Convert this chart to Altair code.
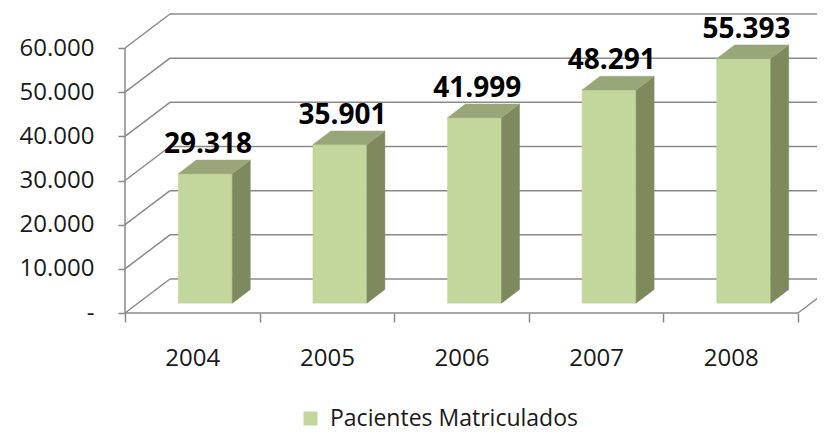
import altair as alt
import pandas as pd

# ---------------- data ----------------
years = ["2004", "2005", "2006", "2007", "2008"]
values = [29318, 35901, 41999, 48291, 55393]
value_labels = ["29.318", "35.901", "41.999", "48.291", "55.393"]
series_name = "Pacientes Matriculados"
y_ticks = [0, 10000, 20000, 30000, 40000, 50000, 60000]

# ---------------- layout (pixels) ----------------
BAND_PX = 673 / 5            # width of one category on the front axis
Y_PX = 265 / 60000           # pixels per unit of value
PLOT_W, PLOT_H = 692, 299
XMAX = PLOT_W / BAND_PX
YMAX = PLOT_H / Y_PX
DX = 45 / BAND_PX            # depth of the 3-D box (x)
DY = 34 / Y_PX               # depth of the 3-D box (y)
F1, F2 = 13 / 45, 31 / 45    # front / back depth of the bars
BAR_W = 54 / BAND_PX

FRONT = "#C3D69B"
SIDE = "#7E8A5E"
TOP = "#99A679"
GRID = "#8A8A8A"
FONT = "Open Sans"

xscale = alt.Scale(domain=[0, XMAX], nice=False, zero=False)
yscale = alt.Scale(domain=[0, YMAX], nice=False, zero=False)
year_arr = "[" + ",".join("'%s'" % y for y in years) + "]"
xaxis = alt.Axis(values=list(range(len(years) + 1)), domain=False, grid=False,
                 tickSize=9, tickColor=GRID, tickWidth=1.5,
                 labelExpr="datum.value < %d ? %s[datum.value] : ''" % (len(years), year_arr),
                 labelOffset=BAND_PX / 2, labelPadding=24, labelFlush=False,
                 labelOverlap=False, labelFont=FONT, labelFontSize=24,
                 labelColor="#1a1a1a", title=None)
yaxis = alt.Axis(values=y_ticks, domain=False, grid=False, tickSize=7,
                 tickColor=GRID, tickWidth=1.5,
                 labelExpr="datum.value == 0 ? '-\u2007' : replace(format(datum.value, ',d'), ',', '.')",
                 labelPadding=24, labelFont=FONT, labelFontSize=24,
                 labelColor="#1a1a1a", title=None)


def X(f):
    return alt.X(f, type="quantitative", scale=xscale, axis=xaxis, title=None)


def Y(f):
    return alt.Y(f, type="quantitative", scale=yscale, axis=yaxis, title=None)


# ---------------- derived tables ----------------
lines = []
for k in y_ticks:
    lines.append(dict(x=DX, x2=XMAX, y=k + DY, y2=k + DY))   # back wall
    lines.append(dict(x=0, x2=DX, y=k, y2=k + DY))            # side wall
n = len(years)
lines.append(dict(x=0, x2=n, y=0, y2=0))                      # floor front edge
lines.append(dict(x=n, x2=n + DX, y=0, y2=DY))                # floor right edge
lines.append(dict(x=0, x2=0, y=0, y2=max(y_ticks)))           # value axis line
lines_df = pd.DataFrame(lines)

front_rows, side_rows, top_rows, lab_rows = [], [], [], []
for i, (yr, v, lab) in enumerate(zip(years, values, value_labels)):
    l = i + 0.5 - BAR_W / 2 + F1 * DX
    r = l + BAR_W
    d = (F2 - F1)
    b1, b2 = F1 * DY, F2 * DY
    front_rows.append(dict(year=yr, series=series_name, x=l, x2=r, y=b1, y2=v + b1))
    side_rows += [dict(year=yr, x=r, y=v + b1, y2=b1),
                  dict(year=yr, x=r + d * DX, y=v + b2, y2=b2)]
    top_rows += [dict(year=yr, x=l, y=v + b1, y2=v + b1),
                 dict(year=yr, x=l + d * DX, y=v + b2, y2=v + b1),
                 dict(year=yr, x=r, y=v + b2, y2=v + b1),
                 dict(year=yr, x=r + d * DX, y=v + b2, y2=v + b2)]
    lab_rows.append(dict(year=yr, label=lab, x=i + 0.5 + F1 * DX + 0.02, y=v + b2))

front_df = pd.DataFrame(front_rows)
side_df = pd.DataFrame(side_rows)
top_df = pd.DataFrame(top_rows)
lab_df = pd.DataFrame(lab_rows)

# ---------------- layers ----------------
grid = alt.Chart(lines_df).mark_rule(color=GRID, strokeWidth=1.5).encode(
    x=X("x"), x2="x2", y=Y("y"), y2="y2")

front = alt.Chart(front_df).mark_bar(stroke=FRONT, strokeWidth=0.5).encode(
    x=X("x"), x2="x2", y=Y("y"), y2="y2",
    color=alt.Color("series:N",
                    scale=alt.Scale(domain=[series_name], range=[FRONT]),
                    legend=alt.Legend(orient="none", legendX=174, legendY=393,
                                      title=None, symbolType="square",
                                      symbolSize=196, symbolStrokeWidth=0,
                                      labelOffset=8, labelFont=FONT,
                                      labelFontSize=23, labelLimit=500,
                                      labelColor="#1a1a1a")))

side = alt.Chart(side_df).mark_area(color=SIDE, stroke=SIDE, strokeWidth=0.5).encode(
    x=X("x"), y=Y("y"), y2="y2", detail="year:N")

top = alt.Chart(top_df).mark_area(color=TOP, stroke=TOP, strokeWidth=0.5).encode(
    x=X("x"), y=Y("y"), y2="y2", detail="year:N")

labels = alt.Chart(lab_df).mark_text(font=FONT, fontSize=28, fontWeight="bold",
                                     color="#000000", baseline="alphabetic",
                                     align="center", dy=-7).encode(
    x=X("x"), y=Y("y"), text="label:N")

chart = alt.layer(grid, front, side, top, labels).properties(
    width=PLOT_W, height=PLOT_H,
    autosize=alt.AutoSizeParams(type="none"),
    padding={"left": 117, "top": 6, "right": 0, "bottom": 119},
    background="white",
).configure_view(stroke=None)

chart.save("out.html", embed_options={"renderer": "svg", "actions": False})
